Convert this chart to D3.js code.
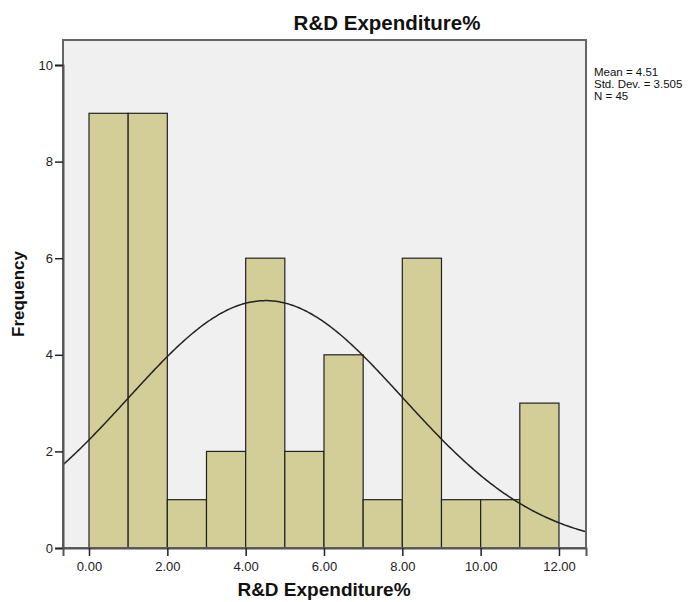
<!DOCTYPE html>
<html><head><meta charset="utf-8">
<script src="https://cdn.jsdelivr.net/npm/d3@7"></script>
<style>body{margin:0;background:#fff;font-family:"Liberation Sans",Arial,sans-serif}</style>
</head><body><svg id="c" width="700" height="602"></svg>
<script>
const binStarts = [0,1,2,3,4,5,6,7,8,9,10,11];
const frequencies = [9,9,1,2,6,2,4,1,6,1,1,3];
const xTicks = [0,2,4,6,8,10,12];
const yTicks = [0,2,4,6,8,10];
const stats = {mean:4.51, sd:3.505, n:45};
const legendLines = ["Mean = 4.51","Std. Dev. = 3.505","N = 45"];

const svg = d3.select("#c");
const L=63,R=586,T=40,B=548;
const x = d3.scaleLinear().domain([-0.664,12.69]).range([L,R]);
const y = d3.scaleLinear().domain([0,10]).range([B,65]);

svg.append("rect").attr("x",L).attr("y",T).attr("width",R-L).attr("height",B-T).attr("fill","#f0f0f0");

svg.selectAll("rect.bar").data(binStarts).join("rect").attr("class","bar")
 .attr("x",d=>x(d)).attr("width",d=>x(d+1)-x(d))
 .attr("y",(d,i)=>y(frequencies[i])).attr("height",(d,i)=>y(0)-y(frequencies[i]))
 .attr("fill","#d3ce97").attr("stroke","#222").attr("stroke-width",1.2);

const pdf = v => stats.n*1/(stats.sd*Math.sqrt(2*Math.PI))*Math.exp(-0.5*((v-stats.mean)/stats.sd)**2);
const xs = d3.range(0,301).map(i=>-0.664+(12.69+0.664)*i/300);
svg.append("path").datum(xs).attr("fill","none").attr("stroke","#222").attr("stroke-width",1.5)
 .attr("d",d3.line().x(d=>x(d)).y(d=>y(pdf(d))));

svg.append("rect").attr("x",L).attr("y",T).attr("width",R-L).attr("height",B-T).attr("fill","none").attr("stroke","#666").attr("stroke-width",2);

const ya = svg.append("g").attr("transform",`translate(${L},0)`).call(d3.axisLeft(y).tickValues(yTicks).tickFormat(d3.format("d")).tickSize(8).tickPadding(2));
const xa = svg.append("g").attr("transform",`translate(0,${B})`).call(d3.axisBottom(x).tickValues(xTicks).tickFormat(d3.format(".2f")).tickSize(8).tickPadding(6));
[ya,xa].forEach(a=>{a.select(".domain").attr("stroke","#555").attr("stroke-width",2);
 a.selectAll(".tick line").attr("stroke","#222").attr("stroke-width",1.5);
 a.selectAll("text").attr("font-family","Liberation Sans, Arial, sans-serif").attr("font-size",13).attr("fill","#222");});

svg.append("text").attr("x",387).attr("y",30).attr("text-anchor","middle").attr("font-size",20.5).attr("font-weight","bold").attr("fill","#111").text("R&D Expenditure%");
svg.append("text").attr("x",324).attr("y",596).attr("text-anchor","middle").attr("font-size",19).attr("font-weight","bold").attr("fill","#111").text("R&D Expenditure%");
svg.append("text").attr("transform","translate(24,294) rotate(-90)").attr("text-anchor","middle").attr("font-size",17).attr("font-weight","bold").attr("fill","#111").text("Frequency");

svg.selectAll("text.leg").data(legendLines).join("text").attr("class","leg")
 .attr("x",594).attr("y",(d,i)=>76+i*12).attr("font-size",11.5).attr("fill","#111").text(d=>d);
</script></body></html>
